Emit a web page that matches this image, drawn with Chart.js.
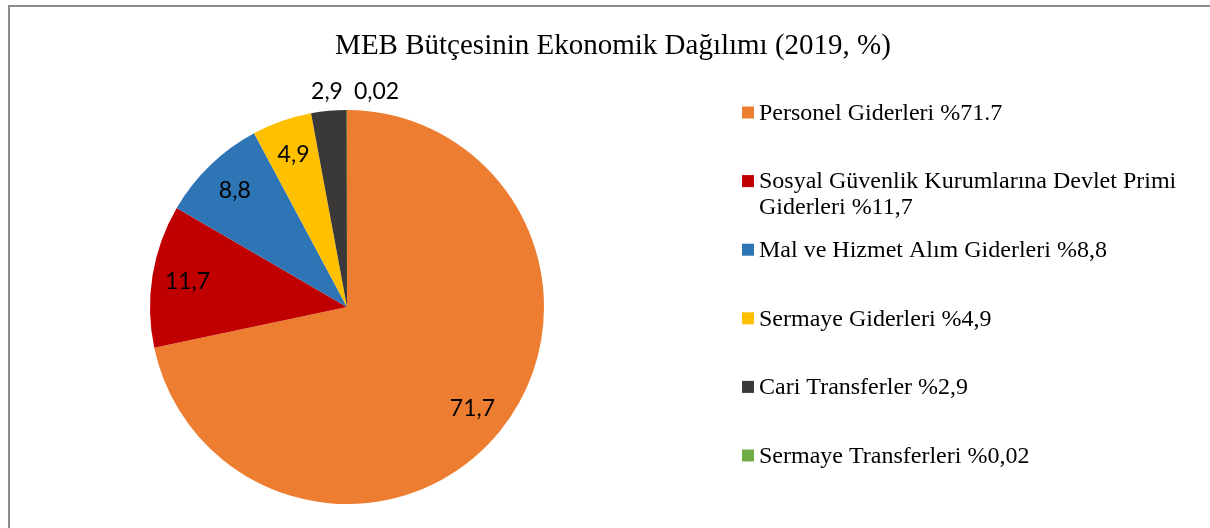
<!DOCTYPE html>
<html>
<head>
<meta charset="utf-8">
<script src="https://cdn.jsdelivr.net/npm/chart.js@4.4.1/dist/chart.umd.min.js"></script>
<style>
  html, body { margin: 0; padding: 0; background: #fff; }
  #wrap { width: 1210px; height: 528px; }
</style>
</head>
<body>
<div id="wrap"><canvas id="pie"></canvas></div>
<script>
const chartTitle = 'MEB Bütçesinin Ekonomik Dağılımı (2019, %)';
const categories = [
  'Personel Giderleri %71.7',
  'Sosyal Güvenlik Kurumlarına Devlet Primi Giderleri %11,7',
  'Mal ve Hizmet Alım Giderleri %8,8',
  'Sermaye Giderleri %4,9',
  'Cari Transferler %2,9',
  'Sermaye Transferleri %0,02'
];
const shares = [71.7, 11.7, 8.8, 4.9, 2.9, 0.02];
const shareLabels = ['71,7', '11,7', '8,8', '4,9', '2,9', '0,02'];
const sliceColors = ['#ED7D31', '#C00000', '#2E75B6', '#FFC000', '#3B3838', '#70AD47'];

// frame + title
const framePlugin = {
  id: 'frame',
  afterDraw: function (chart) {
    const ctx = chart.ctx;
    ctx.save();
    ctx.strokeStyle = '#8c8c8c';
    ctx.lineWidth = 2;
    ctx.beginPath();
    ctx.moveTo(9, 528);
    ctx.lineTo(9, 6);
    ctx.lineTo(1210, 6);
    ctx.stroke();

    ctx.fillStyle = '#000';
    ctx.font = '29px "Liberation Serif"';
    ctx.textAlign = 'center';
    ctx.textBaseline = 'middle';
    ctx.fillText(chartTitle, 613, 46);
    ctx.restore();
  }
};

// value labels on the slices
const sliceLabels = {
  id: 'sliceLabels',
  afterDatasetsDraw: function (chart) {
    const ctx = chart.ctx;
    const meta = chart.getDatasetMeta(0);
    ctx.save();
    ctx.fillStyle = '#000';
    ctx.font = '23px Lato';
    ctx.textBaseline = 'middle';
    ctx.textAlign = 'center';
    let prevRight = -Infinity;
    meta.data.forEach(function (arc, i) {
      const p = arc.getProps(['x', 'y', 'startAngle', 'endAngle', 'outerRadius'], true);
      const mid = (p.startAngle + p.endAngle) / 2;
      const txt = shareLabels[i];
      const w = ctx.measureText(txt).width;
      let r, x, y;
      if (shares[i] >= 4) {
        r = p.outerRadius * 0.82;
        x = p.x + Math.cos(mid) * r;
        y = p.y + Math.sin(mid) * r;
      } else {
        r = p.outerRadius + 20;
        x = p.x + Math.cos(mid) * r;
        y = p.y - p.outerRadius - 18;
        if (x - w / 2 < prevRight + 11) x = prevRight + 11 + w / 2;
        prevRight = x + w / 2;
      }
      ctx.fillText(txt, x, y);
    });
    ctx.restore();
  }
};

// legend on the right, with wrapped text
const sideLegend = {
  id: 'sideLegend',
  afterDraw: function (chart) {
    const ctx = chart.ctx;
    ctx.save();
    ctx.font = '24px "Liberation Serif"';
    ctx.textBaseline = 'middle';
    ctx.textAlign = 'left';
    const boxX = 742, textX = 759, maxW = 425, step = 68.6, lineH = 26;
    let y = 112.5;
    categories.forEach(function (label, i) {
      const words = label.split(' ');
      const lines = [];
      let cur = '';
      words.forEach(function (wd) {
        const test = cur ? cur + ' ' + wd : wd;
        if (ctx.measureText(test).width > maxW && cur) {
          lines.push(cur);
          cur = wd;
        } else {
          cur = test;
        }
      });
      lines.push(cur);
      ctx.fillStyle = sliceColors[i];
      ctx.fillRect(boxX, y - 6, 12, 12);
      ctx.fillStyle = '#000';
      lines.forEach(function (ln, k) {
        ctx.fillText(ln, textX, y + k * lineH + 1);
      });
      y += step;
    });
    ctx.restore();
  }
};

new Chart(document.getElementById('pie'), {
  type: 'pie',
  data: {
    labels: categories,
    datasets: [{
      data: shares,
      backgroundColor: sliceColors,
      borderWidth: 0
    }]
  },
  options: {
    responsive: true,
    maintainAspectRatio: false,
    animation: false,
    layout: {
      padding: { left: 150, right: 666, top: 110, bottom: 24 }
    },
    plugins: {
      legend: { display: false },
      title: { display: false },
      tooltip: { enabled: false }
    }
  },
  plugins: [framePlugin, sliceLabels, sideLegend]
});
</script>
</body>
</html>
